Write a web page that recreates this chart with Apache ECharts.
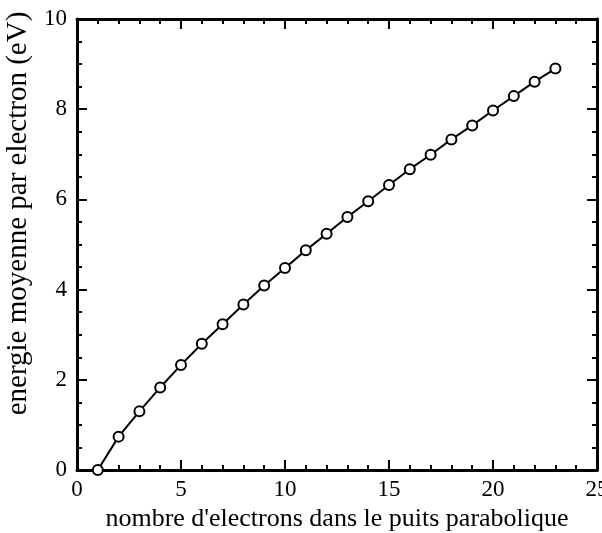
<!DOCTYPE html>
<html>
<head>
<meta charset="utf-8">
<script src="https://cdn.jsdelivr.net/npm/echarts@6/dist/echarts.min.js"></script>
<style>html,body{margin:0;padding:0;background:#fff;}#c{width:602px;height:533px;}</style>
</head>
<body>
<div id="c"></div>
<script>
const electrons = [1,2,3,4,5,6,7,8,9,10,11,12,13,14,15,16,17,18,19,20,21,22,23];
const energy = [0,0.74,1.30,1.83,2.33,2.80,3.23,3.67,4.09,4.48,4.87,5.24,5.61,5.96,6.32,6.67,6.99,7.33,7.64,7.97,8.29,8.61,8.90];
const xTitle = "nombre d'electrons dans le puits parabolique";
const yTitle = "energie moyenne par electron (eV)";

const FONT = "Liberation Serif";
const lineStyle = {color:'#000', width:3};
const tick = {show:true, inside:true, length:10, lineStyle:{color:'#000', width:2}};
const minor = (n)=>({show:true, splitNumber:n, length:5, lineStyle:{color:'#000', width:2}});
const label = {color:'#000', fontFamily:FONT, fontSize:23};

const chart = echarts.init(document.getElementById('c'));
chart.setOption({
  animation:false,
  backgroundColor:'#fff',
  grid:{left:77, right:5, top:19, bottom:63, containLabel:false, outerBoundsMode:'none'},
  xAxis:[
    {type:'value', position:'bottom', min:0, max:25, interval:5,
     axisLine:{show:true, onZero:false, lineStyle:lineStyle},
     axisTick:tick, minorTick:minor(5), splitLine:{show:false},
     axisLabel:Object.assign({margin:8}, label),
     name:xTitle, nameLocation:'middle', nameGap:31,
     nameTextStyle:{color:'#000', fontFamily:FONT, fontSize:26}},
    {type:'value', position:'top', min:0, max:25, interval:5,
     axisLine:{show:true, onZero:false, lineStyle:lineStyle},
     axisTick:tick, minorTick:minor(5), splitLine:{show:false},
     axisLabel:{show:false}}
  ],
  yAxis:[
    {type:'value', position:'left', min:0, max:10, interval:2,
     axisLine:{show:true, onZero:false, lineStyle:lineStyle},
     axisTick:tick, minorTick:minor(4), splitLine:{show:false},
     axisLabel:Object.assign({margin:10}, label),
     name:yTitle, nameLocation:'middle', nameGap:39,
     nameTextStyle:{color:'#000', fontFamily:FONT, fontSize:29, padding:[0,0,0,62]}},
    {type:'value', position:'right', min:0, max:10, interval:2,
     axisLine:{show:true, onZero:false, lineStyle:lineStyle},
     axisTick:tick, minorTick:minor(4), splitLine:{show:false},
     axisLabel:{show:false}}
  ],
  series:[{
    type:'line',
    data:electrons.map((x,i)=>[x, energy[i]]),
    lineStyle:{color:'#000', width:2},
    symbol:'circle', symbolSize:10,
    itemStyle:{color:'#fff', borderColor:'#000', borderWidth:2},
    clip:true
  }]
});
</script>
</body>
</html>
